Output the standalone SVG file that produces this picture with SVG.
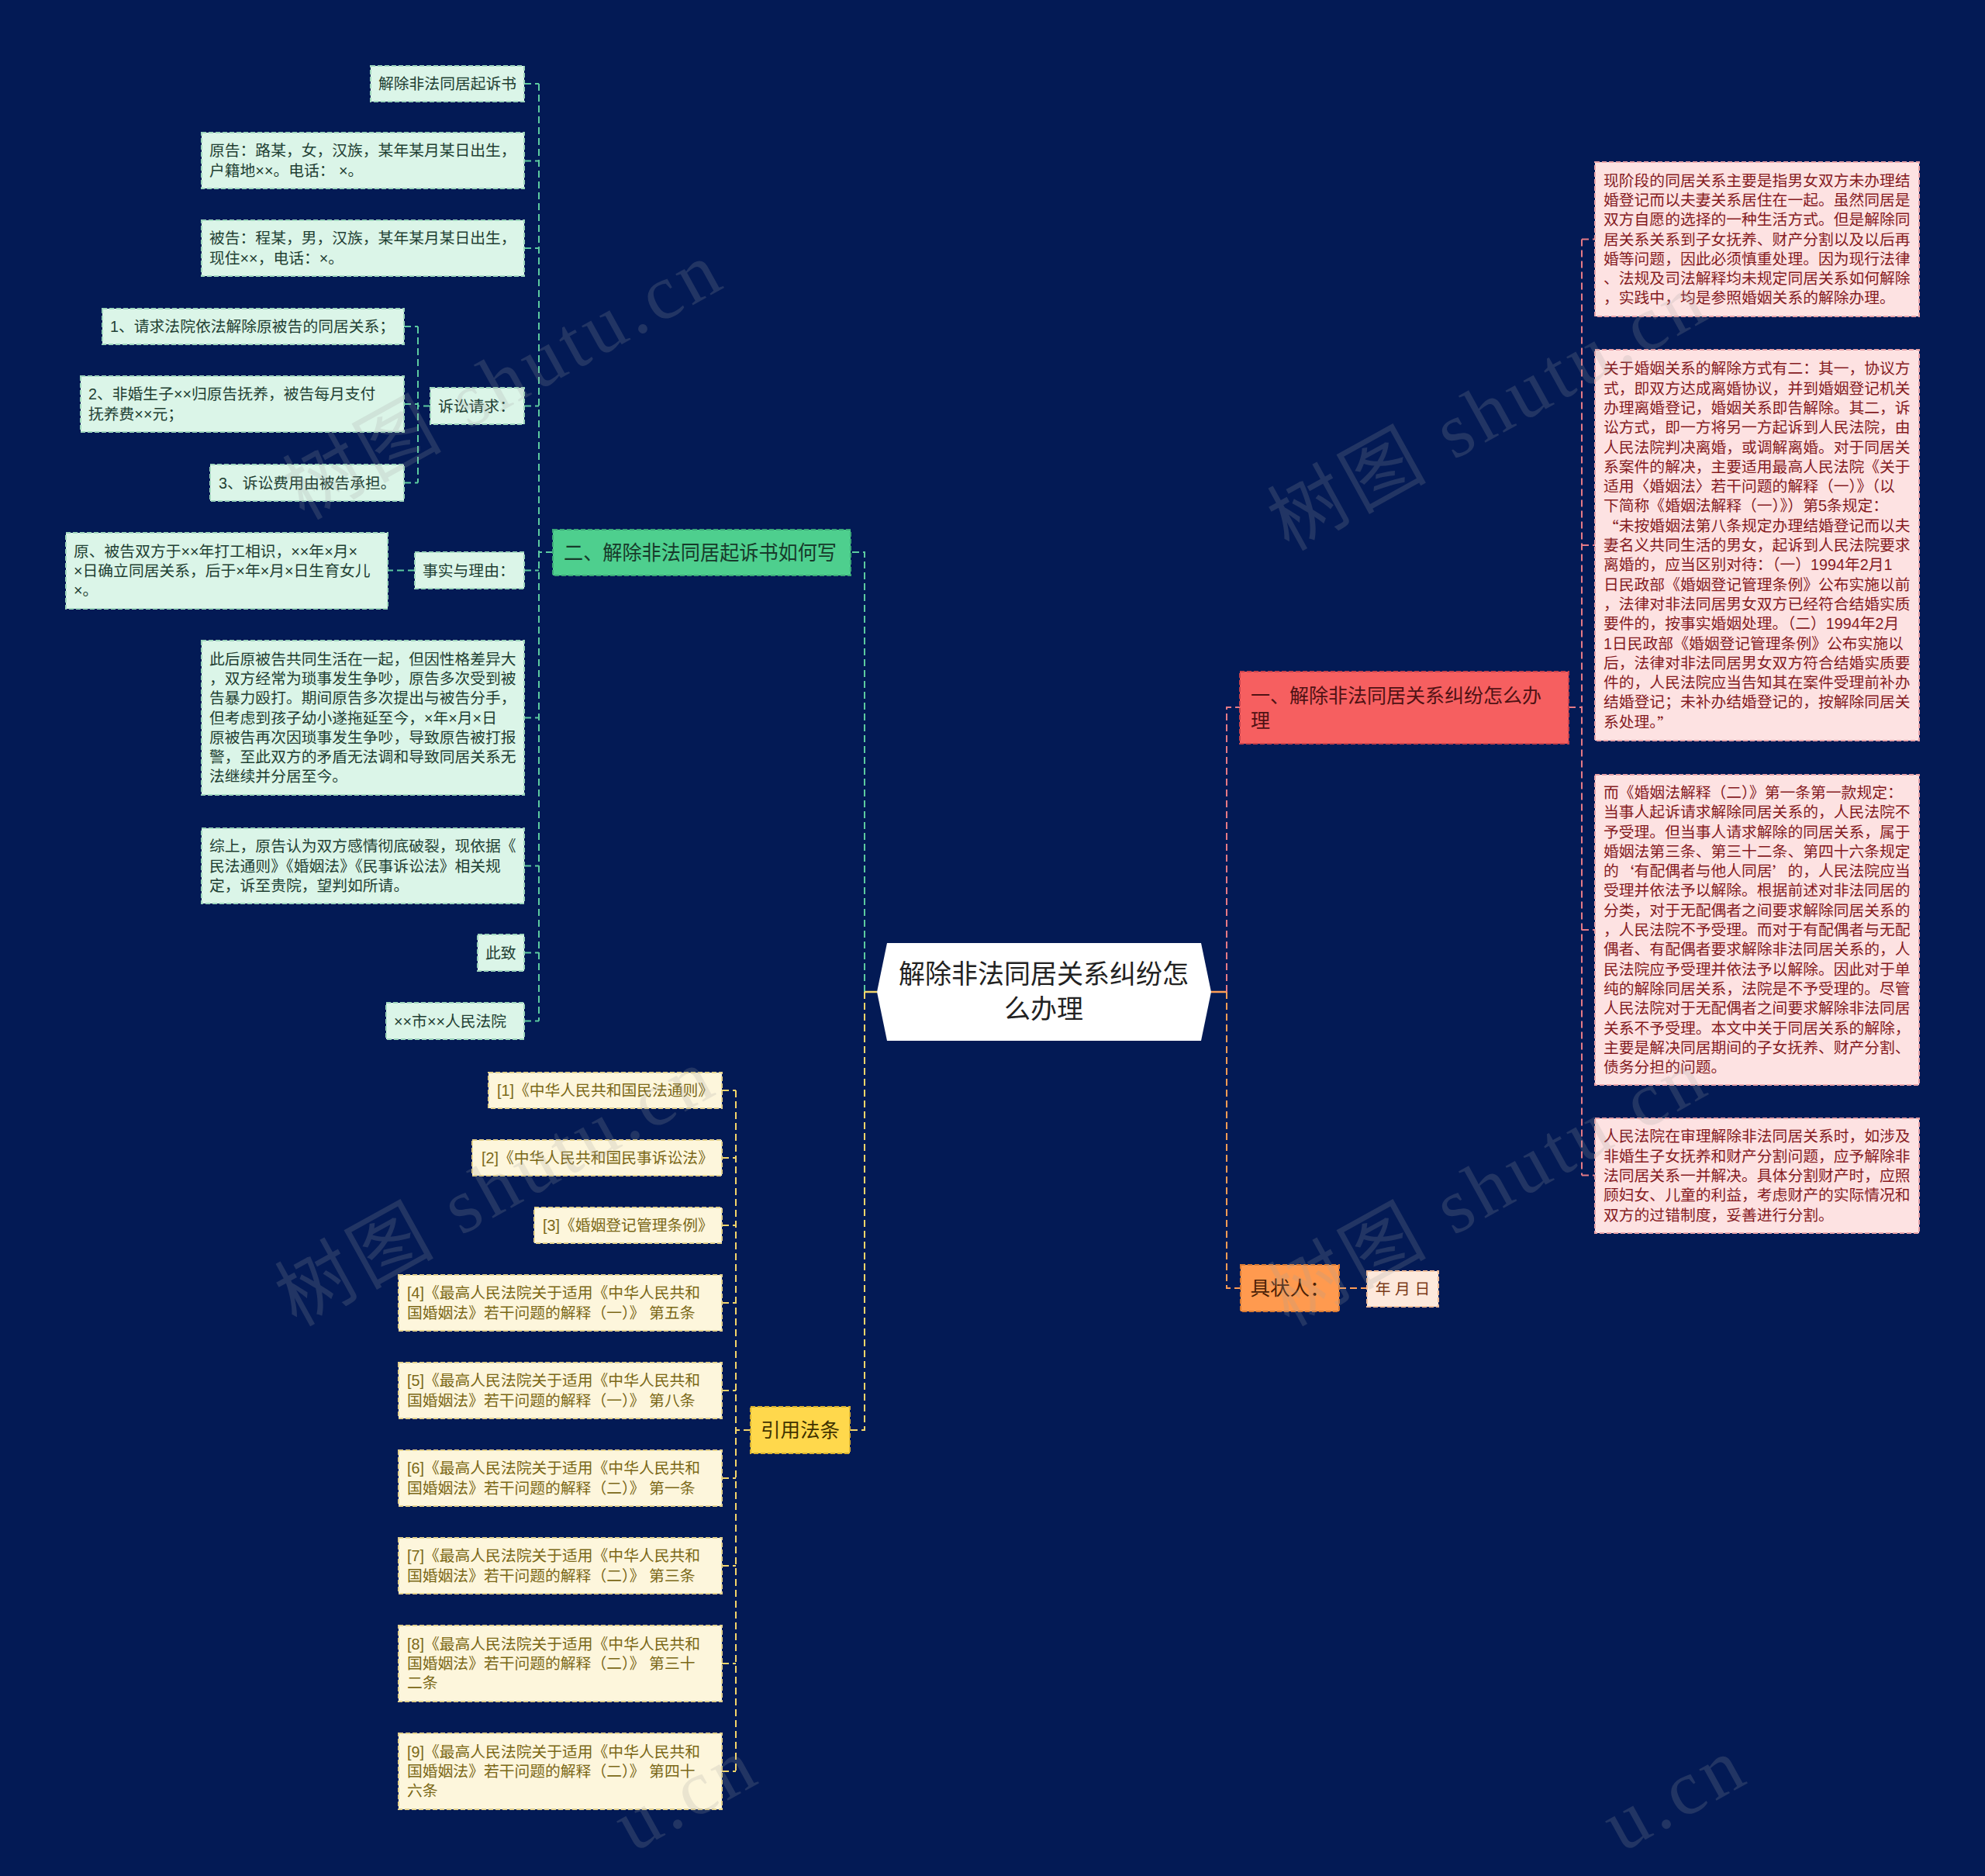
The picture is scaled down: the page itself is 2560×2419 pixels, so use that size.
<svg xmlns="http://www.w3.org/2000/svg" width="2560" height="2419" viewBox="0 0 2560 2419">
<style>
text{font-family:"Liberation Sans","Noto Sans CJK SC","Noto Sans",sans-serif;dominant-baseline:central}
.q{font-family:"Noto Sans CJK SC",sans-serif}
.sm{font-size:19.8px}
.gn{fill:#dbf5e8;stroke:#9fd6bd;stroke-width:2;stroke-dasharray:6 3}
.gt{fill:#1f4033}
.yn{fill:#fdf6dc;stroke:#e3d18d;stroke-width:2;stroke-dasharray:6 3}
.yt{fill:#7b6817}
.pn{fill:#fde2e2;stroke:#e9a3a8;stroke-width:2;stroke-dasharray:6 3}
.pt{fill:#851b1f}
.cg{fill:none;stroke:#5ccaa0;stroke-width:2;stroke-dasharray:9 5}
.cy{fill:none;stroke:#f3d56a;stroke-width:2;stroke-dasharray:9 5}
.cr{fill:none;stroke:#e67a86;stroke-width:2;stroke-dasharray:9 5}
.co{fill:none;stroke:#ff9d55;stroke-width:2;stroke-dasharray:9 5}
.wm{font-family:"Liberation Serif","Noto Sans CJK SC",serif;font-size:100px;fill:#a0a0a0;opacity:0.2;letter-spacing:6px}
</style>
<rect width="2560" height="2419" fill="#031a55"/>

<g id="connectors">
  <path class="cg" d="M1115,1279 V712 H1097"/>
  <path class="cg" d="M713,712 H695 M695,108 V1316.5 M676,108 H695 M676,207.5 H695 M676,320 H695 M676,523.5 H695 M676,735.5 H695 M676,925.5 H695 M676,1116.5 H695 M676,1228.5 H695 M676,1316.5 H695"/>
  <path class="cg" d="M555,523.5 H539 M539,421 V622.5 M521,421 H539 M521,521 H539 M521,622.5 H539"/>
  <path class="cg" d="M535,735.5 H500"/>
  <path d="M1131,1279 H1115" stroke="#f3d56a" stroke-width="2.5" fill="none"/>
  <path class="cy" d="M1115,1279 V1844 H1096"/>
  <path class="cy" d="M968,1844 H949 M949,1406 V2284 M931,1406 H949 M931,1493 H949 M931,1580 H949 M931,1680 H949 M931,1793 H949 M931,1906 H949 M931,2019 H949 M931,2145 H949 M931,2284 H949"/>
  <path d="M1562,1279 H1582" stroke="#ff9d55" stroke-width="2.5" fill="none"/>
  <path class="cr" d="M1582,1279 V912 H1599"/>
  <path class="co" d="M1582,1279 V1661 H1600"/>
  <path class="cr" d="M2023,912 H2040 M2040,308.5 V1515.5 M2040,308.5 H2057 M2040,703 H2057 M2040,1199 H2057 M2040,1515.5 H2057"/>
  <path class="co" d="M1727,1661 H1763"/>
</g>

<g id="center">
  <polygon points="1144,1216 1549,1216 1562,1279 1549,1342 1144,1342 1131,1279" fill="#ffffff"/>
  <text x="1346" font-size="34" fill="#222222" text-anchor="middle"><tspan x="1346" y="1256">解除非法同居关系纠纷怎</tspan><tspan x="1346" y="1301">么办理</tspan></text>
</g>

<g id="n-er">
  <rect x="713" y="683" width="384" height="59" fill="#4ecf8e" stroke="#3aa877" stroke-width="2" stroke-dasharray="6 3"/>
  <text x="727" y="712.5" font-size="26.5" fill="#173a2a" textLength="352" lengthAdjust="spacingAndGlyphs">二、解除非法同居起诉书如何写</text>
</g>
<g id="g1"><rect class="gn" x="478" y="85" width="198" height="46"/><text class="sm gt" x="488" y="108">解除非法同居起诉书</text></g>
<g id="g2"><rect class="gn" x="260" y="171" width="416" height="72"/><text class="sm gt"><tspan x="270" y="194.4">原告：路某，女，汉族，某年某月某日出生，</tspan><tspan x="270" y="219.7">户籍地××。电话：  ×。</tspan></text></g>
<g id="g3"><rect class="gn" x="260" y="284" width="416" height="72"/><text class="sm gt"><tspan x="270" y="307.4">被告：程某，男，汉族，某年某月某日出生，</tspan><tspan x="270" y="332.7">现住××，电话：×。</tspan></text></g>
<g id="g4"><rect class="gn" x="132" y="398" width="389" height="46"/><text class="sm gt" x="142" y="421">1、请求法院依法解除原被告的同居关系；</text></g>
<g id="g5"><rect class="gn" x="104" y="485" width="417" height="72"/><text class="sm gt"><tspan x="114" y="508.4">2、非婚生子××归原告抚养，被告每月支付</tspan><tspan x="114" y="533.7">抚养费××元；</tspan></text></g>
<g id="g6"><rect class="gn" x="271" y="599" width="250" height="47"/><text class="sm gt" x="282" y="622.5">3、诉讼费用由被告承担。</text></g>
<g id="g7"><rect class="gn" x="555" y="500" width="121" height="47"/><text class="sm gt" x="565" y="523.5">诉讼请求：</text></g>
<g id="g8"><rect class="gn" x="85" y="687" width="415" height="98"/><text class="sm gt"><tspan x="95" y="710.7">原、被告双方于××年打工相识，××年×月×</tspan><tspan x="95" y="736">×日确立同居关系，后于×年×月×日生育女儿</tspan><tspan x="95" y="761.3">×。</tspan></text></g>
<g id="g9"><rect class="gn" x="535" y="712" width="141" height="47"/><text class="sm gt" x="545" y="735.5">事实与理由：</text></g>
<g id="g10"><rect class="gn" x="260" y="826" width="416" height="199"/><text class="sm gt"><tspan x="270" y="849.6">此后原被告共同生活在一起，但因性格差异大</tspan><tspan x="270" y="874.9">，双方经常为琐事发生争吵，原告多次受到被</tspan><tspan x="270" y="900.2">告暴力殴打。期间原告多次提出与被告分手，</tspan><tspan x="270" y="925.5">但考虑到孩子幼小遂拖延至今，×年×月×日</tspan><tspan x="270" y="950.8">原被告再次因琐事发生争吵，导致原告被打报</tspan><tspan x="270" y="976.1">警，至此双方的矛盾无法调和导致同居关系无</tspan><tspan x="270" y="1001.4">法继续并分居至今。</tspan></text></g>
<g id="g11"><rect class="gn" x="260" y="1068" width="416" height="97"/><text class="sm gt"><tspan x="270" y="1091.2">综上，原告认为双方感情彻底破裂，现依据《</tspan><tspan x="270" y="1116.5">民法通则》《婚姻法》《民事诉讼法》相关规</tspan><tspan x="270" y="1141.8">定，诉至贵院，望判如所请。</tspan></text></g>
<g id="g12"><rect class="gn" x="616" y="1205" width="60" height="47"/><text class="sm gt" x="626" y="1228.5">此致</text></g>
<g id="g13"><rect class="gn" x="498" y="1293" width="178" height="47"/><text class="sm gt" x="508" y="1316.5">××市××人民法院</text></g>

<g id="n-yin">
  <rect x="968" y="1814" width="128" height="60" fill="#ffd84c" stroke="#d9b130" stroke-width="2" stroke-dasharray="6 3"/>
  <text x="1032" y="1844" font-size="25.5" fill="#3f3300" text-anchor="middle">引用法条</text>
</g>
<g id="y1"><rect class="yn" x="630" y="1383" width="301" height="46"/><text class="sm yt" x="641" y="1406">[1]《中华人民共和国民法通则》</text></g>
<g id="y2"><rect class="yn" x="609" y="1470" width="322" height="46"/><text class="sm yt" x="621" y="1493">[2]《中华人民共和国民事诉讼法》</text></g>
<g id="y3"><rect class="yn" x="689" y="1557" width="242" height="46"/><text class="sm yt" x="700" y="1580">[3]《婚姻登记管理条例》</text></g>
<g id="y4"><rect class="yn" x="514" y="1644" width="417" height="72"/><text class="sm yt"><tspan x="525" y="1667.4">[4]《最高人民法院关于适用《中华人民共和</tspan><tspan x="525" y="1692.7">国婚姻法》若干问题的解释（一）》 第五条</tspan></text></g>
<g id="y5"><rect class="yn" x="514" y="1757" width="417" height="72"/><text class="sm yt"><tspan x="525" y="1780.4">[5]《最高人民法院关于适用《中华人民共和</tspan><tspan x="525" y="1805.7">国婚姻法》若干问题的解释（一）》 第八条</tspan></text></g>
<g id="y6"><rect class="yn" x="514" y="1870" width="417" height="72"/><text class="sm yt"><tspan x="525" y="1893.4">[6]《最高人民法院关于适用《中华人民共和</tspan><tspan x="525" y="1918.7">国婚姻法》若干问题的解释（二）》 第一条</tspan></text></g>
<g id="y7"><rect class="yn" x="514" y="1983" width="417" height="72"/><text class="sm yt"><tspan x="525" y="2006.4">[7]《最高人民法院关于适用《中华人民共和</tspan><tspan x="525" y="2031.7">国婚姻法》若干问题的解释（二）》 第三条</tspan></text></g>
<g id="y8"><rect class="yn" x="514" y="2096" width="417" height="98"/><text class="sm yt"><tspan x="525" y="2119.7">[8]《最高人民法院关于适用《中华人民共和</tspan><tspan x="525" y="2145">国婚姻法》若干问题的解释（二）》 第三十</tspan><tspan x="525" y="2170.3">二条</tspan></text></g>
<g id="y9"><rect class="yn" x="514" y="2235" width="417" height="98"/><text class="sm yt"><tspan x="525" y="2258.7">[9]《最高人民法院关于适用《中华人民共和</tspan><tspan x="525" y="2284">国婚姻法》若干问题的解释（二）》 第四十</tspan><tspan x="525" y="2309.3">六条</tspan></text></g>

<g id="n-yi">
  <rect x="1599" y="866" width="424" height="93" fill="#f65f60" stroke="#c9424b" stroke-width="2" stroke-dasharray="6 3"/>
  <text x="1613" y="896.5" font-size="25" fill="#4f1214">一、解除非法同居关系纠纷怎么办</text>
  <text x="1613" y="928.5" font-size="25" fill="#4f1214">理</text>
</g>
<g id="p1"><rect class="pn" x="2057" y="209" width="418" height="199"/><text class="sm pt"><tspan x="2068" y="232.6">现阶段的同居关系主要是指男女双方未办理结</tspan><tspan x="2068" y="257.9">婚登记而以夫妻关系居住在一起。虽然同居是</tspan><tspan x="2068" y="283.2">双方自愿的选择的一种生活方式。但是解除同</tspan><tspan x="2068" y="308.5">居关系关系到子女抚养、财产分割以及以后再</tspan><tspan x="2068" y="333.8">婚等问题，因此必须慎重处理。因为现行法律</tspan><tspan x="2068" y="359.1">、法规及司法解释均未规定同居关系如何解除</tspan><tspan x="2068" y="384.4">，实践中，均是参照婚姻关系的解除办理。</tspan></text></g>
<g id="p2"><rect class="pn" x="2057" y="451" width="418" height="504"/><text class="sm pt"><tspan x="2068" y="475.3">关于婚姻关系的解除方式有二：其一，协议方</tspan><tspan x="2068" y="500.6">式，即双方达成离婚协议，并到婚姻登记机关</tspan><tspan x="2068" y="525.9">办理离婚登记，婚姻关系即告解除。其二，诉</tspan><tspan x="2068" y="551.2">讼方式，即一方将另一方起诉到人民法院，由</tspan><tspan x="2068" y="576.5">人民法院判决离婚，或调解离婚。对于同居关</tspan><tspan x="2068" y="601.8">系案件的解决，主要适用最高人民法院《关于</tspan><tspan x="2068" y="627.1">适用〈婚姻法〉若干问题的解释（一）》（以</tspan><tspan x="2068" y="652.4">下简称《婚姻法解释（一）》）第5条规定：</tspan><tspan x="2068" y="677.7"><tspan class="q">“</tspan>未按婚姻法第八条规定办理结婚登记而以夫</tspan><tspan x="2068" y="703">妻名义共同生活的男女，起诉到人民法院要求</tspan><tspan x="2068" y="728.3">离婚的，应当区别对待：（一）1994年2月1</tspan><tspan x="2068" y="753.6">日民政部《婚姻登记管理条例》公布实施以前</tspan><tspan x="2068" y="778.9">，法律对非法同居男女双方已经符合结婚实质</tspan><tspan x="2068" y="804.2">要件的，按事实婚姻处理。（二）1994年2月</tspan><tspan x="2068" y="829.5">1日民政部《婚姻登记管理条例》公布实施以</tspan><tspan x="2068" y="854.8">后，法律对非法同居男女双方符合结婚实质要</tspan><tspan x="2068" y="880.1">件的，人民法院应当告知其在案件受理前补办</tspan><tspan x="2068" y="905.4">结婚登记；未补办结婚登记的，按解除同居关</tspan><tspan x="2068" y="930.7">系处理。<tspan class="q">”</tspan></tspan></text></g>
<g id="p3"><rect class="pn" x="2057" y="999" width="418" height="400"/><text class="sm pt"><tspan x="2068" y="1021.9">而《婚姻法解释（二）》第一条第一款规定：</tspan><tspan x="2068" y="1047.2">当事人起诉请求解除同居关系的，人民法院不</tspan><tspan x="2068" y="1072.5">予受理。但当事人请求解除的同居关系，属于</tspan><tspan x="2068" y="1097.8">婚姻法第三条、第三十二条、第四十六条规定</tspan><tspan x="2068" y="1123.1">的<tspan class="q">‘</tspan>有配偶者与他人同居<tspan class="q">’</tspan>的，人民法院应当</tspan><tspan x="2068" y="1148.4">受理并依法予以解除。根据前述对非法同居的</tspan><tspan x="2068" y="1173.7">分类，对于无配偶者之间要求解除同居关系的</tspan><tspan x="2068" y="1199">，人民法院不予受理。而对于有配偶者与无配</tspan><tspan x="2068" y="1224.3">偶者、有配偶者要求解除非法同居关系的，人</tspan><tspan x="2068" y="1249.6">民法院应予受理并依法予以解除。因此对于单</tspan><tspan x="2068" y="1274.9">纯的解除同居关系，法院是不予受理的。尽管</tspan><tspan x="2068" y="1300.2">人民法院对于无配偶者之间要求解除非法同居</tspan><tspan x="2068" y="1325.5">关系不予受理。本文中关于同居关系的解除，</tspan><tspan x="2068" y="1350.8">主要是解决同居期间的子女抚养、财产分割、</tspan><tspan x="2068" y="1376.1">债务分担的问题。</tspan></text></g>
<g id="p4"><rect class="pn" x="2057" y="1442" width="418" height="148"/><text class="sm pt"><tspan x="2068" y="1465.4">人民法院在审理解除非法同居关系时，如涉及</tspan><tspan x="2068" y="1490.7">非婚生子女抚养和财产分割问题，应予解除非</tspan><tspan x="2068" y="1516">法同居关系一并解决。具体分割财产时，应照</tspan><tspan x="2068" y="1541.3">顾妇女、儿童的利益，考虑财产的实际情况和</tspan><tspan x="2068" y="1566.6">双方的过错制度，妥善进行分割。</tspan></text></g>
<g id="n-ju">
  <rect x="1600" y="1631" width="127" height="60" fill="#ff9a4f" stroke="#d97a33" stroke-width="2" stroke-dasharray="6 3"/>
  <text x="1663.5" y="1661" font-size="25.5" fill="#4a2106" text-anchor="middle">具状人：</text>
</g>
<g id="n-date">
  <rect x="1763" y="1639" width="92" height="46" fill="#fde9dc" stroke="#f0bd9a" stroke-width="2" stroke-dasharray="6 3"/>
  <text x="1809" y="1662" class="sm" fill="#7a3a18" text-anchor="middle">年 月 日</text>
</g>

<g id="watermarks">
  <text class="wm" x="650" y="490" text-anchor="middle" transform="rotate(-29 650 490)">树图 shutu.cn</text>
  <text class="wm" x="1920" y="530" text-anchor="middle" transform="rotate(-29 1920 530)">树图 shutu.cn</text>
  <text class="wm" x="640" y="1530" text-anchor="middle" transform="rotate(-29 640 1530)">树图 shutu.cn</text>
  <text class="wm" x="1920" y="1530" text-anchor="middle" transform="rotate(-29 1920 1530)">树图 shutu.cn</text>
  <text class="wm" x="800" y="2360" transform="rotate(-29 800 2360)">u.cn</text>
  <text class="wm" x="2075" y="2360" transform="rotate(-29 2075 2360)">u.cn</text>
</g>
</svg>
